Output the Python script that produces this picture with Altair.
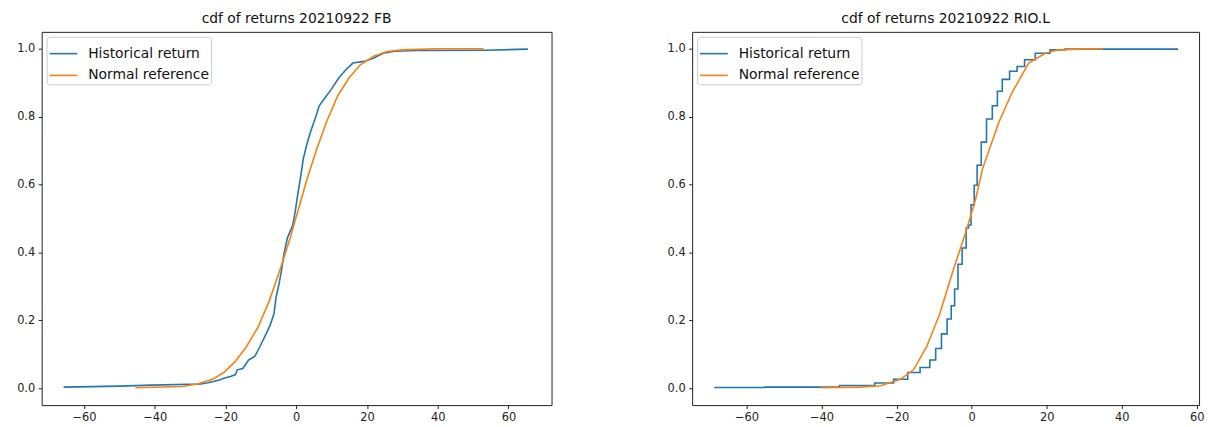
import altair as alt
import pandas as pd

# ---- FB panel ----
fb_hist_x = [-65.8, -50.0, -40.9, -27.0, -25.0, -23.7, -21.5, -20.5, -18.4, -17.2, -16.7, -15.1,
             -13.5, -11.7, -10.3, -8.7, -7.4, -6.3, -5.7, -4.9, -4.2, -3.5, -2.5, -1.0, -0.3,
             0.4, 1.3, 2.0, 2.9, 4.0, 5.3, 6.5, 8.5, 10.0, 12.0, 14.1, 16.0, 19.2, 21.9, 24.6,
             27.8, 34.2, 53.6, 65.5]
fb_hist_y = [0.003, 0.006, 0.009, 0.012, 0.016, 0.019, 0.025, 0.029, 0.035, 0.040, 0.054, 0.058,
             0.083, 0.094, 0.122, 0.156, 0.185, 0.219, 0.268, 0.306, 0.345, 0.394, 0.443, 0.480, 0.520,
             0.569, 0.627, 0.676, 0.715, 0.754, 0.793, 0.832, 0.861, 0.882, 0.914, 0.939, 0.958, 0.963,
             0.973, 0.987, 0.993, 0.995, 0.996, 0.999]
fb_norm_x = [-45.5, -32.3, -28.0, -23.7, -20.5, -17.3, -14.1, -10.8, -7.6, -4.4, -1.7, 0.4, 3.1,
             5.8, 8.5, 11.7, 14.9, 18.1, 21.9, 25.7, 29.9, 39.6, 53.0]
fb_norm_y = [0.001, 0.005, 0.012, 0.026, 0.046, 0.078, 0.122, 0.180, 0.258, 0.355, 0.443, 0.520,
             0.618, 0.705, 0.783, 0.861, 0.914, 0.953, 0.978, 0.992, 0.997, 1.000, 1.000]

# ---- RIO.L panel ----
rio_hist_x = [-68.6, -41.8, -28.7, -23.0, -18.6, -15.5, -12.0, -10.3, -8.9, -7.2, -5.9, -5.0, -4.1,
              -3.2, -1.9, -1.05, -0.6, 0.26, 1.1, 1.8, 3.3, 4.6, 6.4, 7.3, 9.0, 11.2, 13.0, 15.2,
              18.7, 23.1, 26.6, 55.0]
rio_hist_y = [0.002, 0.003, 0.008, 0.015, 0.026, 0.046, 0.061, 0.083, 0.117, 0.160, 0.204, 0.243,
              0.292, 0.365, 0.413, 0.472, 0.481, 0.540, 0.598, 0.657, 0.725, 0.793, 0.832, 0.875,
              0.910, 0.934, 0.948, 0.968, 0.987, 0.997, 0.999, 0.999]
rio_norm_x = [-40.3, -30.0, -24.3, -19.0, -15.5, -12.0, -8.5, -5.0, -1.5, 1.1, 2.9, 7.3, 10.8,
              15.2, 19.6, 23.1, 28.0, 35.0]
rio_norm_y = [0.001, 0.003, 0.007, 0.026, 0.054, 0.122, 0.219, 0.345, 0.462, 0.559, 0.647, 0.785,
              0.872, 0.958, 0.987, 0.997, 0.999, 1.000]

series_names = ["Historical return", "Normal reference"]
series_colors = ["#1f77b4", "#ff7f0e"]
x_ticks = [-60, -40, -20, 0, 20, 40, 60]
y_ticks = [0.0, 0.2, 0.4, 0.6, 0.8, 1.0]

MINUS_EXPR = "replace(format(datum.value, 'd'), '-', '\u2212')"


def panel(title, hx, hy, nx, ny, xdomain, width, hist_interp):
    hist = pd.DataFrame({"x": hx, "y": hy, "series": series_names[0], "order": range(len(hx))})
    norm = pd.DataFrame({"x": nx, "y": ny, "series": series_names[1], "order": range(len(nx))})
    xenc = alt.X("x:Q", scale=alt.Scale(domain=xdomain, nice=False, zero=False),
                 axis=alt.Axis(values=x_ticks, title=None, labelExpr=MINUS_EXPR))
    yenc = alt.Y("y:Q", scale=alt.Scale(domain=[-0.05, 1.05], nice=False, zero=False),
                 axis=alt.Axis(values=y_ticks, format=".1f", title=None))
    cenc = alt.Color("series:N",
                     scale=alt.Scale(domain=series_names, range=series_colors),
                     legend=alt.Legend(title=None, orient="top-left", offset=5,
                                       symbolType="stroke", symbolSize=784,
                                       symbolStrokeWidth=1.6, labelFontSize=14,
                                       labelOffset=10, rowPadding=0, padding=2,
                                       fillColor="rgba(255,255,255,0.8)",
                                       strokeColor="#cccccc", cornerRadius=3,
                                       labelColor="#111"))
    h = alt.Chart(hist).mark_line(strokeWidth=1.6, interpolate=hist_interp).encode(
        x=xenc, y=yenc, color=cenc, order="order:Q")
    n = alt.Chart(norm).mark_line(strokeWidth=1.6).encode(
        x=xenc, y=yenc, color=cenc, order="order:Q")
    return alt.layer(h, n).properties(
        width=width, height=377,
        title=alt.TitleParams(title, fontSize=14, fontWeight="normal", color="#111",
                              anchor="middle", baseline="alphabetic", offset=-5),
    )


left = panel("cdf of returns 20210922 FB", fb_hist_x, fb_hist_y, fb_norm_x, fb_norm_y,
             [-72.0, 72.2], 515, "linear")
right = panel("cdf of returns 20210922 RIO.L", rio_hist_x, rio_hist_y, rio_norm_x, rio_norm_y,
              [-74.5, 60.6], 512, "step")

chart = alt.hconcat(left, right, spacing=115).resolve_scale(color="independent").properties(
    padding={"left": 8, "top": 1, "right": 0, "bottom": 0}
).configure(
    font="DejaVu Sans",
).configure_view(
    stroke="#222", strokeWidth=1,
).configure_axis(
    domain=False, grid=False, tickColor="#222", tickSize=3.5, tickWidth=1,
    labelColor="#222", labelFontSize=11.5, labelPadding=3.5, labelFont="DejaVu Sans",
).configure_legend(
    labelFont="DejaVu Sans",
)

chart.save("out.html", embed_options={"renderer": "svg", "actions": False})
